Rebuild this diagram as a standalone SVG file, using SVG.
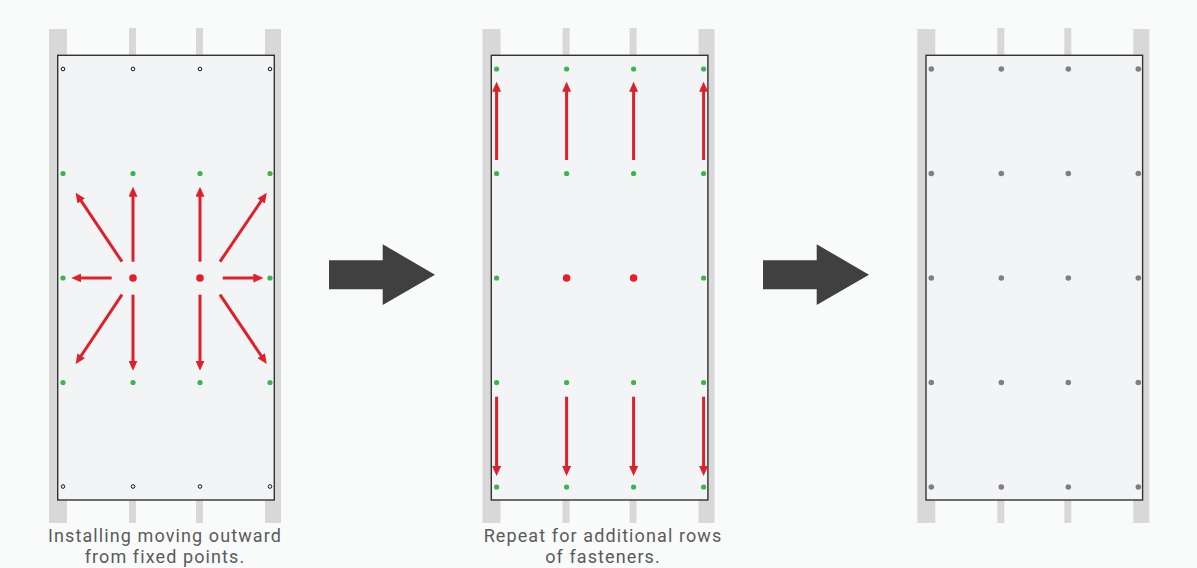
<svg xmlns="http://www.w3.org/2000/svg" width="1197" height="568" viewBox="0 0 1197 568">
<style>
.stud{fill:#d8d8d8}
.board{fill:#f3f4f6;stroke:#333;stroke-width:1.4}
.open{fill:#fff;stroke:#111;stroke-width:1}
.g{fill:#3bb44a}
.r{fill:#e3202a}
.gr{fill:#808080}
.arr{stroke:#df2029;stroke-width:3;fill:none;marker-end:url(#ah)}
.big{fill:#404040}
.lbl{font-family:Roboto,"Liberation Sans",sans-serif;font-size:18px;fill:#5a5a5a;text-anchor:middle;letter-spacing:1.1px}
</style>
<defs>
<marker id="ah" viewBox="0 0 10 9" refX="4" refY="4.5" markerWidth="10" markerHeight="9" markerUnits="userSpaceOnUse" orient="auto">
<path d="M0,0 L10,4.5 L0,9 z" fill="#df2029"/>
</marker>
<g id="studs">
<rect class="stud" x="49" y="29" width="18" height="494"/>
<rect class="stud" x="129" y="28" width="7" height="495"/>
<rect class="stud" x="196" y="28" width="7" height="495"/>
<rect class="stud" x="265" y="29" width="16" height="494"/>
<rect class="board" x="57.7" y="55.3" width="216.6" height="444.7"/>
</g>
</defs>
<rect width="1197" height="568" fill="#f9fbfb"/>

<g id="panel1">
<use href="#studs"/>
<circle class="open" cx="63" cy="69" r="1.8"/><circle class="open" cx="133" cy="69" r="1.8"/><circle class="open" cx="200" cy="69" r="1.8"/><circle class="open" cx="270" cy="69" r="1.8"/>
<circle class="g" cx="63" cy="173.5" r="2.6"/><circle class="g" cx="133" cy="173.5" r="2.6"/><circle class="g" cx="200" cy="173.5" r="2.6"/><circle class="g" cx="270" cy="173.5" r="2.6"/>
<circle class="g" cx="63" cy="278" r="2.6"/><circle class="r" cx="133" cy="278" r="3.8"/><circle class="r" cx="200" cy="278" r="3.8"/><circle class="g" cx="270" cy="278" r="2.6"/>
<circle class="g" cx="63" cy="382.5" r="2.6"/><circle class="g" cx="133" cy="382.5" r="2.6"/><circle class="g" cx="200" cy="382.5" r="2.6"/><circle class="g" cx="270" cy="382.5" r="2.6"/>
<circle class="open" cx="63" cy="486.5" r="1.8"/><circle class="open" cx="133" cy="486.5" r="1.8"/><circle class="open" cx="200" cy="486.5" r="1.8"/><circle class="open" cx="270" cy="486.5" r="1.8"/>
<text class="lbl" x="165" y="542">Installing moving outward</text>
<text class="lbl" x="165" y="563">from fixed points.</text>
</g>

<g id="panel2">
<g transform="translate(433.6,0)">
<use href="#studs"/>
<g class="g">
<circle cx="63" cy="69" r="2.6"/><circle cx="133" cy="69" r="2.6"/><circle cx="200" cy="69" r="2.6"/><circle cx="270" cy="69" r="2.6"/>
<circle cx="63" cy="173.5" r="2.6"/><circle cx="133" cy="173.5" r="2.6"/><circle cx="200" cy="173.5" r="2.6"/><circle cx="270" cy="173.5" r="2.6"/>
<circle cx="63" cy="278" r="2.6"/><circle cx="270" cy="278" r="2.6"/>
<circle cx="63" cy="382.5" r="2.6"/><circle cx="133" cy="382.5" r="2.6"/><circle cx="200" cy="382.5" r="2.6"/><circle cx="270" cy="382.5" r="2.6"/>
<circle cx="63" cy="487" r="2.6"/><circle cx="133" cy="487" r="2.6"/><circle cx="200" cy="487" r="2.6"/><circle cx="270" cy="487" r="2.6"/>
</g>
<circle class="r" cx="133" cy="278" r="3.8"/><circle class="r" cx="200" cy="278" r="3.8"/>
</g>
<text class="lbl" x="603" y="542">Repeat for additional rows</text>
<text class="lbl" x="603" y="563">of fasteners.</text>
</g>

<g id="panel3">
<g transform="translate(868.3,0)">
<use href="#studs"/>
<g class="gr">
<circle cx="63" cy="69" r="2.8"/><circle cx="133" cy="69" r="2.8"/><circle cx="200" cy="69" r="2.8"/><circle cx="270" cy="69" r="2.8"/>
<circle cx="63" cy="173.5" r="2.8"/><circle cx="133" cy="173.5" r="2.8"/><circle cx="200" cy="173.5" r="2.8"/><circle cx="270" cy="173.5" r="2.8"/>
<circle cx="63" cy="278" r="2.8"/><circle cx="133" cy="278" r="2.8"/><circle cx="200" cy="278" r="2.8"/><circle cx="270" cy="278" r="2.8"/>
<circle cx="63" cy="382.5" r="2.8"/><circle cx="133" cy="382.5" r="2.8"/><circle cx="200" cy="382.5" r="2.8"/><circle cx="270" cy="382.5" r="2.8"/>
<circle cx="63" cy="487" r="2.8"/><circle cx="133" cy="487" r="2.8"/><circle cx="200" cy="487" r="2.8"/><circle cx="270" cy="487" r="2.8"/>
</g>
</g>
</g>

<g id="connectors">
<g id="p1arrows">
<line class="arr" x1="133" y1="261.7" x2="133" y2="192.7"/>
<line class="arr" x1="122" y1="261.7" x2="79" y2="197.7"/>
<line class="arr" x1="111.7" y1="278" x2="77.3" y2="278"/>
<line class="arr" x1="122" y1="294.7" x2="79" y2="359"/>
<line class="arr" x1="133" y1="294.7" x2="133" y2="364.7"/>
<line class="arr" x1="200" y1="261.7" x2="200" y2="192.7"/>
<line class="arr" x1="220" y1="261.7" x2="263.4" y2="197.7"/>
<line class="arr" x1="222.7" y1="278" x2="257.3" y2="278"/>
<line class="arr" x1="220" y1="294.7" x2="263.4" y2="359"/>
<line class="arr" x1="200" y1="294.7" x2="200" y2="364.7"/>
</g>
<g id="p2arrows">
<line class="arr" x1="496.6" y1="160" x2="496.6" y2="87.7"/>
<line class="arr" x1="566.6" y1="160" x2="566.6" y2="87.7"/>
<line class="arr" x1="633.6" y1="160" x2="633.6" y2="87.7"/>
<line class="arr" x1="703.6" y1="160" x2="703.6" y2="87.7"/>
<line class="arr" x1="496.6" y1="396.7" x2="496.6" y2="470"/>
<line class="arr" x1="566.6" y1="396.7" x2="566.6" y2="470"/>
<line class="arr" x1="633.6" y1="396.7" x2="633.6" y2="470"/>
<line class="arr" x1="703.6" y1="396.7" x2="703.6" y2="470"/>
</g>
<path id="step1" class="big" d="M329,260.3 H382.7 V244.3 L435,274.7 L382.7,305 V289.3 H329 z"/>
<path id="step2" class="big" d="M763,260.3 H816.7 V244.3 L869,274.7 L816.7,305 V289.3 H763 z"/>
</g>
</svg>
